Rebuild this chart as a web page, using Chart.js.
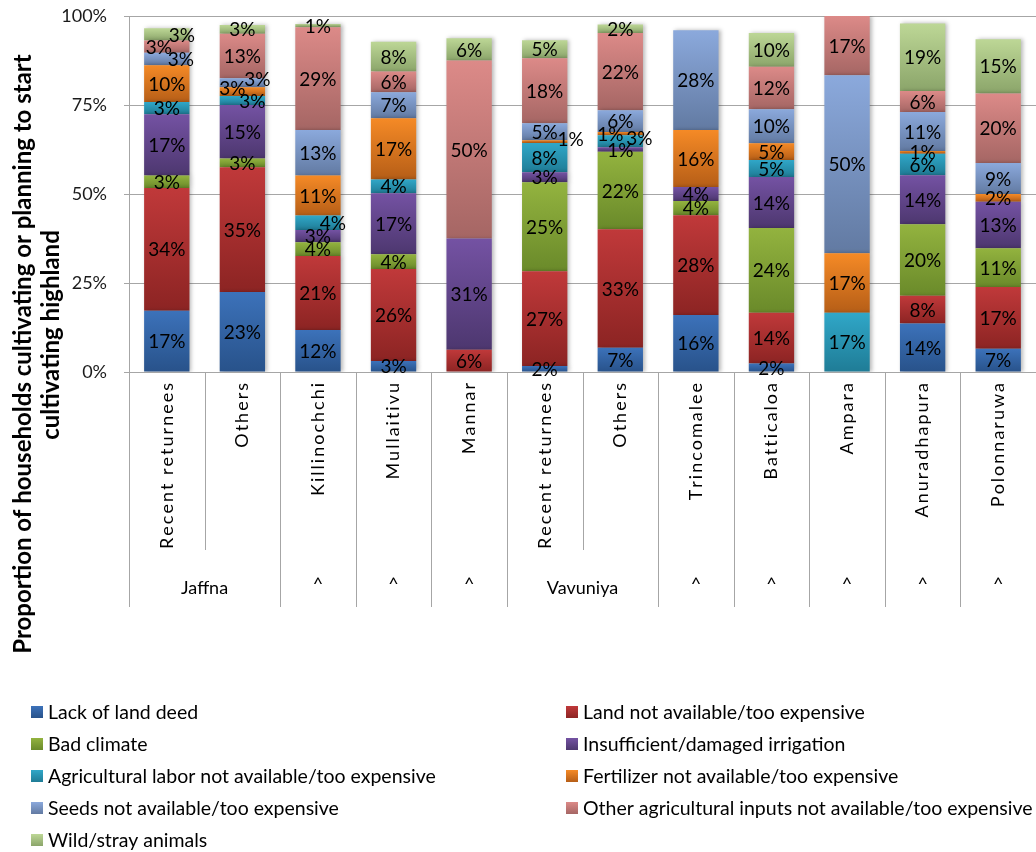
<!DOCTYPE html>
<html>
<head>
<meta charset="utf-8">
<script src="https://cdn.jsdelivr.net/npm/chart.js@4.4.0/dist/chart.umd.min.js"></script>
<style>
  html, body { margin: 0; padding: 0; background: #fff; overflow: hidden; }
  #wrap { width: 1036px; height: 852px; }
</style>
</head>
<body>
<div id="wrap"><canvas id="chart" width="1036" height="852"></canvas></div>
<script>
// categories (inner level) and district groups (outer level, null = continues previous group)
const categories = ["Recent returnees", "Others", "Killinochchi", "Mullaitivu", "Mannar",
  "Recent returnees", "Others", "Trincomalee", "Batticaloa", "Ampara", "Anuradhapura", "Polonnaruwa"];
const groupLabels = ["Jaffna", null, "^", "^", "^", "Vavuniya", null, "^", "^", "^", "^", "^"];

const seriesNames = [
  "Lack of land deed",
  "Land not available/too expensive",
  "Bad climate",
  "Insufficient/damaged irrigation",
  "Agricultural labor not available/too expensive",
  "Fertilizer not available/too expensive",
  "Seeds not available/too expensive",
  "Other agricultural inputs not available/too expensive",
  "Wild/stray animals"
];

// percentages per category
const landDeed    = [17.24, 22.5, 11.8, 3.1, 0, 1.7, 6.8, 16, 2.38, 0, 13.6, 6.52];
const landNA      = [34.48, 35, 20.8, 25.8, 6.25, 26.6, 33.3, 28, 14.29, 0, 7.8, 17.39];
const badClimate  = [3.45, 2.5, 3.84, 4.2, 0, 25.0, 21.8, 4, 23.81, 0, 20.1, 10.87];
const irrigation  = [17.24, 15, 3.46, 17.1, 31.25, 2.8, 1.2, 4, 14.29, 0, 13.8, 13.04];
const labor       = [3.45, 2.5, 4.03, 3.9, 0, 8.2, 3.4, 0, 4.76, 16.67, 6.0, 0];
const fertilizer  = [10.34, 2.5, 11.24, 17.2, 0, 0.8, 0.9, 16, 4.76, 16.67, 0.8, 2.17];
const seeds       = [3.45, 2.5, 12.83, 7.3, 0, 4.8, 6.1, 28, 9.52, 50, 10.9, 8.70];
const otherInputs = [3.45, 12.5, 28.84, 5.8, 50, 18.2, 21.7, 0, 11.90, 16.67, 5.9, 19.57];
const wildAnimals = [3.45, 2.5, 0.94, 8.4, 6.25, 5.1, 2.4, 0, 9.52, 0, 19.0, 15.22];

const yTicks = [0, 25, 50, 75, 100];

const seriesValues = [landDeed, landNA, badClimate, irrigation, labor, fertilizer, seeds, otherInputs, wildAnimals];

// gradient colours, top -> bottom
const seriesColors = [
  ["#3C72BA", "#28528A"],
  ["#C0393A", "#8C2423"],
  ["#93B33F", "#6A8A2A"],
  ["#7452A3", "#4D376F"],
  ["#30A7C8", "#1F7C96"],
  ["#F58A26", "#B65E17"],
  ["#8BA9DC", "#627AA2"],
  ["#DC8A88", "#A56664"],
  ["#BDD796", "#8BA56A"]
];

// labels that were nudged sideways in the original: [series, category, dx, dy]
const labelNudges = [
  [8, 0, 15, 0], [7, 0, -8, 0], [6, 0, 14, 0],
  [6, 1, 15, -4], [5, 1, -10, -4], [4, 1, 10, 0],
  [4, 2, 15, 0],
  [5, 5, 26, -3],
  [5, 6, -10, 0], [4, 6, 19, -3]
];

const FONT = "Lato, 'Open Sans', sans-serif";
const gridColor = "#A6A6A6";

function segmentFill(ds) {
  return (ctx) => {
    const [top, bottom] = seriesColors[ds];
    if (ctx.type !== "data") return top;
    const y = ctx.chart.scales.y;
    if (!y) return top;
    const i = ctx.dataIndex;
    let start = 0;
    for (let k = 0; k < ds; k++) start += seriesValues[k][i];
    const end = start + seriesValues[ds][i];
    const y0 = y.getPixelForValue(start);
    const y1 = y.getPixelForValue(end);
    if (!isFinite(y0) || !isFinite(y1) || y0 === y1) return top;
    const g = ctx.chart.ctx.createLinearGradient(0, y1, 0, y0);
    g.addColorStop(0, top);
    g.addColorStop(1, bottom);
    return g;
  };
}

// right-aligned text with extra letter spacing (drawn char by char)
function spacedTextRight(c, text, x, y, spacing) {
  let w = 0;
  for (const ch of text) w += c.measureText(ch).width + spacing;
  w -= spacing;
  let px = x - w;
  c.textAlign = "left";
  for (const ch of text) {
    c.fillText(ch, px, y);
    px += c.measureText(ch).width + spacing;
  }
}

const excelExtras = {
  id: "excelExtras",
  beforeDatasetsDraw(chart) {
    const c = chart.ctx;
    c.save();
    c.shadowColor = "rgba(0,0,0,0.28)";
    c.shadowBlur = 4;
    c.shadowOffsetX = 2;
    c.shadowOffsetY = 0;
  },
  afterDatasetsDraw(chart) {
    const c = chart.ctx;
    c.restore();
    // value labels in each segment
    c.save();
    c.font = "19px " + FONT;
    c.fillStyle = "#000";
    c.textAlign = "center";
    c.textBaseline = "middle";
    chart.data.datasets.forEach((ds, d) => {
      const meta = chart.getDatasetMeta(d);
      meta.data.forEach((bar, i) => {
        const v = seriesValues[d][i];
        if (!v) return;
        let dx = 0, dy = 0;
        labelNudges.forEach(n => { if (n[0] === d && n[1] === i) { dx = n[2]; dy = n[3]; } });
        c.fillText(Math.round(v) + "%", bar.x + dx, (bar.y + bar.base) / 2 + dy + 1);
      });
    });
    c.restore();
  },
  afterDraw(chart) {
    const c = chart.ctx;
    const x = chart.scales.x;
    const area = chart.chartArea;
    const n = categories.length;
    const step = (area.right - area.left) / n;
    const innerBottom = 550, outerBottom = 607;

    c.save();
    // separators
    c.strokeStyle = gridColor;
    c.lineWidth = 1;
    for (let i = 0; i <= n; i++) {
      const bx = Math.round(area.left + i * step) + 0.5;
      const continues = i < n && groupLabels[i] === null;
      c.beginPath();
      c.moveTo(bx, area.bottom);
      c.lineTo(bx, continues ? innerBottom : outerBottom);
      c.stroke();
    }

    // inner labels, rotated
    c.fillStyle = "#000";
    c.font = "18px " + FONT;
    c.textBaseline = "middle";
    categories.forEach((lab, i) => {
      const cx = x.getPixelForValue(i);
      c.save();
      c.translate(cx, area.bottom + 11);
      c.rotate(-Math.PI / 2);
      spacedTextRight(c, lab, 0, 0, 2);
      c.restore();
    });

    // outer group labels
    c.textAlign = "center";
    for (let i = 0; i < n; i++) {
      if (groupLabels[i] === null) continue;
      let span = 1;
      while (i + span < n && groupLabels[i + span] === null) span++;
      const cx = (x.getPixelForValue(i) + x.getPixelForValue(i + span - 1)) / 2;
      c.fillText(groupLabels[i], cx, groupLabels[i] === "^" ? 584 : 588);
    }

    // y axis title
    c.font = "bold 24px " + FONT;
    c.textAlign = "center";
    c.save();
    c.translate(23, 354);
    c.rotate(-Math.PI / 2);
    c.fillText("Proportion of households cultivating or planning to start", 0, 0);
    c.restore();
    c.save();
    c.translate(51, 335);
    c.rotate(-Math.PI / 2);
    c.fillText("cultivating highland", 0, 0);
    c.restore();

    // legend in two columns
    c.font = "19.5px " + FONT;
    c.textAlign = "left";
    c.textBaseline = "middle";
    seriesNames.forEach((name, d) => {
      const row = Math.floor(d / 2), col = d % 2;
      const ly = 712 + row * 32;
      const bx = col === 0 ? 31 : 566;
      const g = c.createLinearGradient(0, ly - 6, 0, ly + 6);
      g.addColorStop(0, seriesColors[d][0]);
      g.addColorStop(1, seriesColors[d][1]);
      c.fillStyle = g;
      c.fillRect(bx, ly - 6, 12, 12);
      c.fillStyle = "#000";
      c.fillText(name, bx + 17, ly + 1);
    });
    c.restore();
  }
};

const datasets = seriesNames.map((name, d) => ({
  label: name,
  data: seriesValues[d],
  backgroundColor: segmentFill(d),
  borderWidth: 0,
  barPercentage: 0.6,
  categoryPercentage: 1.0
}));

new Chart(document.getElementById("chart"), {
  type: "bar",
  data: { labels: categories, datasets: datasets },
  options: {
    responsive: false,
    animation: false,
    layout: { autoPadding: false, padding: { top: 16, right: 0, bottom: 0, left: 0 } },
    plugins: { legend: { display: false }, tooltip: { enabled: false } },
    scales: {
      x: {
        stacked: true,
        ticks: { display: false },
        grid: { display: false },
        border: { display: false },
        afterFit: (s) => { s.height = 480; s.paddingLeft = 0; s.paddingRight = 0; }
      },
      y: {
        stacked: true,
        min: 0,
        max: 100,
        afterBuildTicks: (s) => { s.ticks = yTicks.map(v => ({ value: v })); },
        ticks: {
          callback: (v) => v + "%",
          padding: 17,
          color: "#1a1a1a",
          font: { family: FONT, size: 18 }
        },
        grid: { color: gridColor, tickLength: 5 },
        border: { color: gridColor },
        afterFit: (s) => { s.width = 129; s.paddingTop = 0; s.paddingBottom = 0; }
      }
    }
  },
  plugins: [excelExtras]
});
</script>
</body>
</html>
